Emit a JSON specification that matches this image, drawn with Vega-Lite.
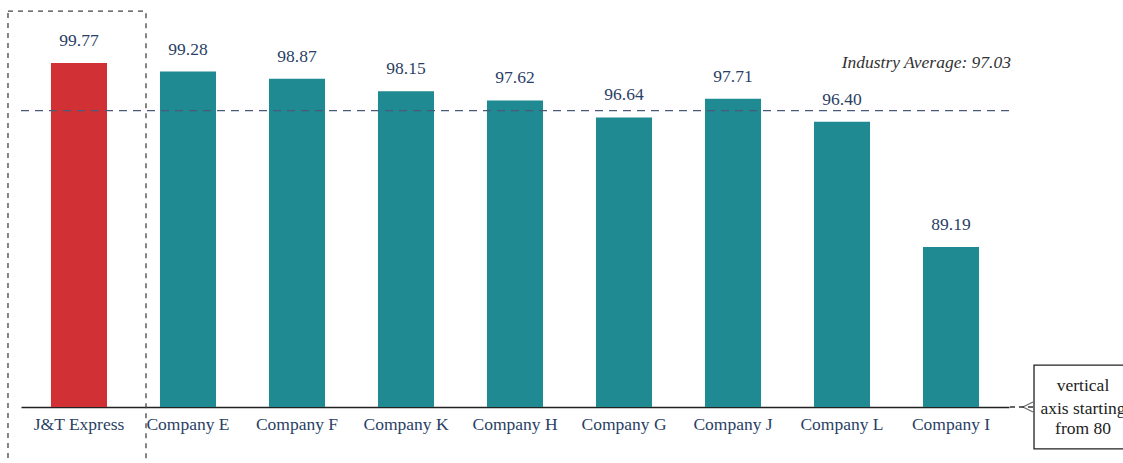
{
  "$schema": "https://vega.github.io/schema/vega-lite/v6.json",
  "autosize": "none",
  "padding": {"left": 21, "top": 59, "right": 114, "bottom": 56},
  "width": 988,
  "height": 348,
  "background": "white",
  "config": {"view": {"stroke": null}, "font": "Liberation Serif"},
  "datasets": {
    "bars": [
      {"company": "J&T Express", "rate": 99.77, "group": "J&T"},
      {"company": "Company E", "rate": 99.28, "group": "Other"},
      {"company": "Company F", "rate": 98.87, "group": "Other"},
      {"company": "Company K", "rate": 98.15, "group": "Other"},
      {"company": "Company H", "rate": 97.62, "group": "Other"},
      {"company": "Company G", "rate": 96.64, "group": "Other"},
      {"company": "Company J", "rate": 97.71, "group": "Other"},
      {"company": "Company L", "rate": 96.40, "group": "Other"},
      {"company": "Company I", "rate": 89.19, "group": "Other"}
    ],
    "avg": [{"avg": 97.03, "label": "Industry Average: 97.03", "company": "Company I"}],
    "highlight": [{"company": "J&T Express", "top": 102.75, "bottom": 76}],
    "note": [{"company": "Company I", "top": 82.41, "bottom": 77.59, "mid": 80}],
    "noteText": [
      {"company": "Company I", "line": "vertical", "pos": 81.2},
      {"company": "Company I", "line": "axis starting", "pos": 79.9},
      {"company": "Company I", "line": "from 80", "pos": 78.75}
    ]
  },
  "encoding": {
    "x": {
      "field": "company",
      "type": "nominal",
      "sort": null,
      "scale": {"paddingInner": 0.486, "paddingOuter": 0.275},
      "axis": {
        "title": null,
        "labelAngle": 0,
        "labelFont": "Liberation Serif",
        "labelFontSize": 17.5,
        "labelColor": "#2b3f66",
        "labelPadding": 8,
        "ticks": false,
        "domainColor": "#222222",
        "domainWidth": 1.5
      }
    }
  },
  "layer": [
    {
      "data": {"name": "bars"},
      "mark": {"type": "bar"},
      "encoding": {
        "y": {"field": "rate", "type": "quantitative", "scale": {"domain": [80, 100], "zero": false, "nice": false}, "axis": null},
        "y2": {"datum": 80},
        "color": {"field": "group", "type": "nominal", "scale": {"domain": ["J&T", "Other"], "range": ["#d13035", "#1f8a92"]}, "legend": null}
      }
    },
    {
      "data": {"name": "bars"},
      "mark": {"type": "text", "fontSize": 17.5, "color": "#2b3f66", "baseline": "alphabetic", "dy": -17, "font": "Liberation Serif"},
      "encoding": {
        "y": {"field": "rate", "type": "quantitative"},
        "text": {"field": "rate", "type": "quantitative", "format": ".2f"}
      }
    },
    {
      "data": {"name": "avg"},
      "mark": {"type": "rule", "color": "#4a5a7a", "strokeDash": [8, 6], "strokeWidth": 1.3},
      "encoding": {"x": null, "y": {"field": "avg", "type": "quantitative"}}
    },
    {
      "data": {"name": "avg"},
      "mark": {"type": "text", "fontSize": 17.5, "fontStyle": "italic", "color": "#333333", "align": "right", "baseline": "alphabetic", "dy": -43, "xOffset": 60, "font": "Liberation Serif"},
      "encoding": {
        "y": {"field": "avg", "type": "quantitative"},
        "text": {"field": "label"}
      }
    },
    {
      "data": {"name": "highlight"},
      "mark": {"type": "rect", "fill": null, "stroke": "#444444", "strokeWidth": 1.3, "strokeDash": [5, 5], "width": 138, "xOffset": -2, "clip": false},
      "encoding": {
        "y": {"field": "top", "type": "quantitative"},
        "y2": {"field": "bottom"}
      }
    },
    {
      "data": {"name": "note"},
      "mark": {"type": "rect", "fill": "white", "stroke": "#222222", "strokeWidth": 1.3, "width": 98, "xOffset": 132, "clip": false},
      "encoding": {
        "y": {"field": "top", "type": "quantitative"},
        "y2": {"field": "bottom"}
      }
    },
    {
      "data": {"name": "note"},
      "mark": {"type": "rule", "stroke": "#333333", "strokeWidth": 1.3, "strokeDash": [5, 4], "xOffset": 59, "x2Offset": 82, "clip": false},
      "encoding": {
        "x2": {"field": "company"},
        "y": {"field": "mid", "type": "quantitative"}
      }
    },
    {
      "data": {"name": "note"},
      "mark": {"type": "point", "shape": "M 1 -1 L -1 0 L 1 1", "filled": false, "stroke": "#333333", "strokeWidth": 1.3, "size": 100, "xOffset": 77, "clip": false},
      "encoding": {
        "y": {"field": "mid", "type": "quantitative"}
      }
    },
    {
      "data": {"name": "noteText"},
      "mark": {"type": "text", "fontSize": 17.5, "color": "#222222", "xOffset": 132, "baseline": "middle", "font": "Liberation Serif"},
      "encoding": {
        "y": {"field": "pos", "type": "quantitative"},
        "text": {"field": "line"}
      }
    }
  ]
}
